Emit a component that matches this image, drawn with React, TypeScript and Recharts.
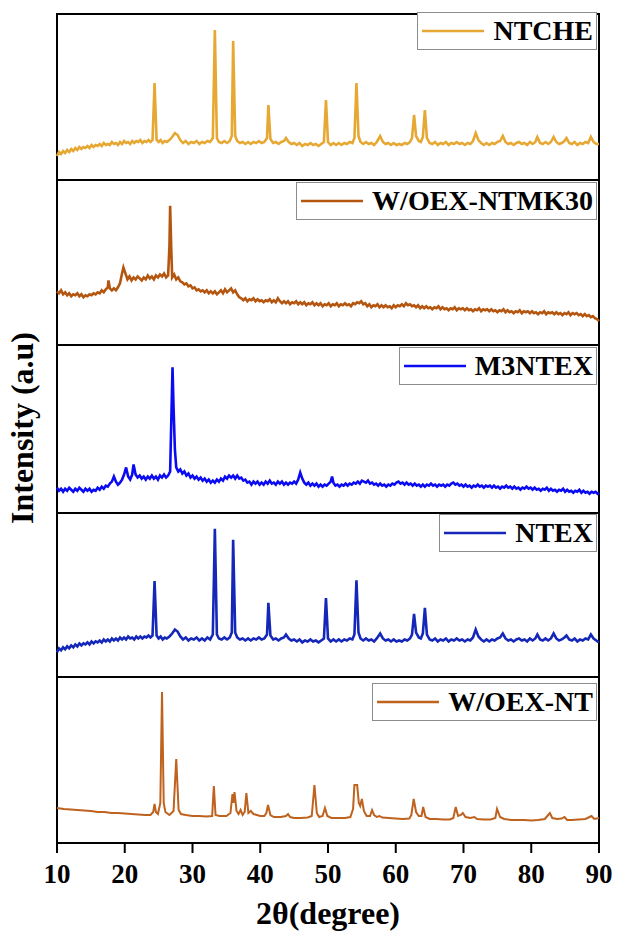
import React from 'react';
import { LineChart, Line, XAxis, YAxis, ReferenceArea, Legend, Label } from 'recharts';

// 2θ tick marks on the shared bottom axis
const xTicks = [10, 20, 30, 40, 50, 60, 70, 80, 90];

// [2θ, intensity]
const ntche: [number, number][] = [
  [10.0, 24], [10.3, 28], [10.6, 26], [10.9, 29], [11.2, 27], [11.5, 30], [11.8, 28], [12.1, 31], [12.4, 29], [12.7, 32],
  [13.0, 30], [13.3, 33], [13.6, 31], [13.9, 33], [14.2, 32], [14.5, 34], [14.8, 32], [15.1, 35], [15.4, 33], [15.7, 35],
  [16.0, 34], [16.3, 36], [16.6, 34], [16.9, 37], [17.2, 35], [17.5, 36], [17.8, 35], [18.1, 38], [18.4, 36], [18.7, 37],
  [19.0, 35], [19.3, 38], [19.6, 36], [19.9, 39], [20.2, 37], [20.5, 38], [20.8, 36], [21.1, 39], [21.4, 37], [21.7, 39],
  [22.0, 38], [22.3, 40], [22.6, 37], [22.9, 39], [23.2, 38], [23.5, 40], [23.8, 38], [24.1, 40], [24.4, 97], [24.7, 40],
  [25.0, 38], [25.3, 40], [25.6, 37], [25.9, 39], [26.2, 38], [26.6, 40], [27.0, 43], [27.4, 47], [27.8, 45], [28.2, 40],
  [28.6, 37], [29.0, 39], [29.4, 36], [29.8, 38], [30.2, 37], [30.6, 39], [31.0, 36], [31.4, 38], [31.8, 37], [32.2, 39],
  [32.6, 38], [33.0, 42], [33.3, 150], [33.6, 42], [33.9, 38], [34.3, 37], [34.7, 39], [35.1, 37], [35.5, 39], [35.8, 44],
  [36.0, 139], [36.3, 44], [36.6, 39], [37.0, 37], [37.4, 38], [37.8, 36], [38.2, 38], [38.6, 36], [39.0, 38], [39.4, 37],
  [39.8, 39], [40.2, 37], [40.6, 38], [41.0, 42], [41.2, 75], [41.5, 41], [41.9, 37], [42.3, 38], [42.7, 36], [43.1, 38],
  [43.5, 39], [43.8, 42], [44.2, 38], [44.6, 36], [45.0, 37], [45.4, 35], [45.8, 37], [46.2, 34], [46.6, 36], [47.0, 35],
  [47.4, 37], [47.8, 35], [48.2, 36], [48.6, 34], [49.0, 36], [49.4, 38], [49.7, 80], [50.0, 38], [50.4, 35], [50.8, 37],
  [51.2, 35], [51.6, 37], [52.0, 35], [52.4, 37], [52.8, 36], [53.2, 38], [53.6, 37], [53.9, 42], [54.2, 97], [54.5, 44],
  [54.8, 38], [55.2, 36], [55.6, 38], [56.0, 36], [56.4, 37], [56.8, 35], [57.2, 38], [57.7, 44], [58.1, 38], [58.5, 36],
  [58.9, 37], [59.3, 35], [59.7, 37], [60.1, 35], [60.5, 36], [60.9, 35], [61.3, 37], [61.7, 36], [62.1, 38], [62.4, 42],
  [62.7, 65], [63.0, 44], [63.4, 39], [63.7, 38], [64.0, 43], [64.3, 70], [64.6, 42], [65.0, 37], [65.4, 36], [65.8, 38],
  [66.2, 35], [66.6, 37], [67.0, 36], [67.4, 38], [67.8, 35], [68.2, 37], [68.6, 36], [69.0, 38], [69.4, 36], [69.8, 37],
  [70.2, 35], [70.6, 37], [71.0, 36], [71.4, 39], [71.8, 47], [72.2, 40], [72.6, 37], [73.0, 35], [73.4, 37], [73.8, 35],
  [74.2, 37], [74.6, 36], [75.0, 38], [75.4, 39], [75.8, 44], [76.2, 38], [76.6, 36], [77.0, 37], [77.4, 35], [77.8, 37],
  [78.2, 38], [78.6, 36], [79.0, 37], [79.4, 35], [79.8, 38], [80.2, 36], [80.6, 38], [80.9, 43], [81.3, 37], [81.7, 36],
  [82.1, 38], [82.5, 36], [82.9, 38], [83.3, 43], [83.7, 38], [84.1, 36], [84.5, 37], [84.9, 39], [85.2, 42], [85.6, 37],
  [86.0, 36], [86.4, 38], [86.8, 35], [87.2, 37], [87.6, 36], [88.0, 38], [88.4, 37], [88.8, 43], [89.2, 38], [89.6, 36],
  [90.0, 36],
];

const noexMk30: [number, number][] = [
  [10.0, 54], [10.3, 52], [10.6, 55], [10.9, 51], [11.2, 53], [11.5, 50], [11.8, 52], [12.1, 49], [12.4, 51], [12.7, 50],
  [13.0, 52], [13.3, 49], [13.6, 51], [13.9, 48], [14.2, 50], [14.5, 49], [14.8, 51], [15.1, 50], [15.4, 52], [15.7, 51],
  [16.0, 53], [16.3, 52], [16.6, 55], [16.9, 53], [17.2, 56], [17.5, 58], [17.6, 65], [17.8, 57], [18.1, 55], [18.4, 57],
  [18.7, 55], [19.0, 58], [19.3, 62], [19.6, 72], [19.8, 78], [20.1, 72], [20.4, 66], [20.7, 69], [21.0, 65], [21.3, 68],
  [21.6, 66], [21.9, 69], [22.2, 67], [22.5, 65], [22.8, 68], [23.1, 66], [23.4, 70], [23.7, 67], [24.0, 69], [24.3, 66],
  [24.6, 70], [24.9, 68], [25.2, 71], [25.5, 69], [25.8, 72], [26.1, 68], [26.4, 70], [26.6, 100], [26.7, 140], [26.85, 100],
  [27.0, 68], [27.3, 71], [27.6, 66], [27.9, 68], [28.2, 64], [28.5, 63], [28.8, 61], [29.1, 62], [29.4, 59], [29.7, 60],
  [30.0, 57], [30.3, 58], [30.6, 55], [30.9, 56], [31.2, 54], [31.5, 55], [31.8, 53], [32.1, 55], [32.4, 52], [32.7, 54],
  [33.0, 52], [33.3, 54], [33.6, 51], [33.9, 53], [34.2, 55], [34.5, 52], [34.8, 56], [35.1, 53], [35.4, 55], [35.7, 57],
  [36.0, 53], [36.3, 55], [36.6, 51], [36.9, 48], [37.2, 47], [37.5, 45], [37.8, 47], [38.1, 44], [38.4, 46], [38.7, 45],
  [39.0, 47], [39.3, 44], [39.6, 46], [39.9, 44], [40.2, 45], [40.5, 43], [40.8, 45], [41.1, 44], [41.4, 46], [41.7, 43],
  [42.0, 45], [42.3, 43], [42.6, 47], [42.9, 44], [43.2, 42], [43.5, 44], [43.8, 42], [44.1, 44], [44.4, 41], [44.7, 43],
  [45.0, 42], [45.3, 44], [45.6, 41], [45.9, 43], [46.2, 41], [46.5, 43], [46.8, 40], [47.1, 42], [47.4, 41], [47.7, 43],
  [48.0, 40], [48.3, 42], [48.6, 40], [48.9, 42], [49.2, 39], [49.5, 41], [49.8, 40], [50.1, 42], [50.4, 39], [50.7, 41],
  [51.0, 40], [51.3, 42], [51.6, 39], [51.9, 41], [52.2, 40], [52.5, 42], [52.8, 40], [53.1, 41], [53.4, 39], [53.7, 42],
  [54.0, 41], [54.3, 43], [54.6, 42], [54.9, 44], [55.2, 41], [55.5, 42], [55.8, 39], [56.1, 41], [56.4, 38], [56.7, 40],
  [57.0, 39], [57.3, 41], [57.6, 38], [57.9, 40], [58.2, 38], [58.5, 40], [58.8, 38], [59.1, 39], [59.4, 37], [59.7, 40],
  [60.0, 38], [60.3, 40], [60.6, 39], [60.9, 41], [61.2, 39], [61.5, 42], [61.8, 40], [62.1, 41], [62.4, 39], [62.7, 40],
  [63.0, 38], [63.3, 40], [63.6, 37], [63.9, 39], [64.2, 37], [64.5, 39], [64.8, 37], [65.1, 38], [65.4, 36], [65.7, 38],
  [66.0, 37], [66.3, 39], [66.6, 36], [66.9, 38], [67.2, 36], [67.5, 37], [67.8, 35], [68.1, 37], [68.4, 36], [68.7, 38],
  [69.0, 35], [69.3, 37], [69.6, 36], [69.9, 37], [70.2, 35], [70.5, 37], [70.8, 35], [71.1, 36], [71.4, 34], [71.7, 36],
  [72.0, 35], [72.3, 37], [72.6, 34], [72.9, 36], [73.2, 35], [73.5, 36], [73.8, 34], [74.1, 36], [74.4, 34], [74.7, 35],
  [75.0, 33], [75.3, 35], [75.6, 34], [75.9, 36], [76.2, 33], [76.5, 35], [76.8, 33], [77.1, 34], [77.4, 32], [77.7, 34],
  [78.0, 33], [78.3, 35], [78.6, 32], [78.9, 34], [79.2, 33], [79.5, 34], [79.8, 32], [80.1, 34], [80.4, 32], [80.7, 33],
  [81.0, 31], [81.3, 33], [81.6, 32], [81.9, 34], [82.2, 31], [82.5, 33], [82.8, 32], [83.1, 33], [83.4, 31], [83.7, 33],
  [84.0, 31], [84.3, 32], [84.6, 30], [84.9, 32], [85.2, 31], [85.5, 33], [85.8, 30], [86.1, 32], [86.4, 31], [86.7, 32],
  [87.0, 30], [87.3, 31], [87.6, 29], [87.9, 31], [88.2, 29], [88.5, 30], [88.8, 28], [89.1, 29], [89.4, 27], [89.7, 26],
  [90.0, 24],
];

const m3ntex: [number, number][] = [
  [10.0, 25], [10.3, 22], [10.6, 24], [10.9, 21], [11.2, 24], [11.5, 22], [11.8, 25], [12.1, 23], [12.4, 21], [12.7, 24],
  [13.0, 22], [13.3, 25], [13.6, 23], [13.9, 21], [14.2, 24], [14.5, 22], [14.8, 24], [15.1, 21], [15.4, 23], [15.7, 22],
  [16.0, 25], [16.3, 23], [16.6, 26], [16.9, 24], [17.2, 27], [17.5, 26], [17.8, 29], [18.1, 31], [18.4, 36], [18.7, 31],
  [19.0, 28], [19.3, 30], [19.6, 33], [19.9, 38], [20.2, 45], [20.5, 36], [20.8, 33], [21.1, 38], [21.3, 48], [21.6, 38],
  [21.9, 35], [22.2, 37], [22.5, 34], [22.8, 36], [23.1, 33], [23.4, 36], [23.7, 34], [24.0, 37], [24.3, 34], [24.6, 36],
  [24.9, 33], [25.2, 37], [25.5, 35], [25.8, 38], [26.1, 35], [26.4, 37], [26.7, 41], [26.9, 100], [27.05, 144], [27.2, 105],
  [27.4, 63], [27.6, 45], [27.9, 41], [28.2, 43], [28.5, 39], [28.8, 41], [29.1, 37], [29.4, 39], [29.7, 35], [30.0, 37],
  [30.3, 34], [30.6, 36], [30.9, 33], [31.2, 35], [31.5, 32], [31.8, 34], [32.1, 31], [32.4, 33], [32.7, 30], [33.0, 32],
  [33.3, 30], [33.6, 33], [33.9, 31], [34.2, 34], [34.5, 32], [34.8, 36], [35.1, 34], [35.4, 37], [35.7, 35], [36.0, 37],
  [36.3, 34], [36.6, 37], [36.9, 34], [37.2, 35], [37.5, 32], [37.8, 33], [38.1, 30], [38.4, 31], [38.7, 28], [39.0, 31],
  [39.3, 29], [39.6, 31], [39.9, 28], [40.2, 30], [40.5, 28], [40.8, 31], [41.1, 29], [41.4, 32], [41.7, 29], [42.0, 30],
  [42.3, 28], [42.6, 31], [42.9, 29], [43.2, 31], [43.5, 28], [43.8, 30], [44.1, 28], [44.4, 30], [44.7, 29], [45.0, 31],
  [45.3, 29], [45.6, 33], [45.9, 40], [46.2, 34], [46.5, 30], [46.8, 28], [47.1, 30], [47.4, 27], [47.7, 29], [48.0, 27],
  [48.3, 29], [48.6, 26], [48.9, 28], [49.2, 26], [49.5, 28], [49.8, 27], [50.1, 29], [50.4, 31], [50.6, 36], [50.8, 30],
  [51.1, 27], [51.4, 28], [51.7, 26], [52.0, 28], [52.3, 27], [52.6, 29], [52.9, 27], [53.2, 29], [53.5, 28], [53.8, 30],
  [54.1, 29], [54.4, 31], [54.7, 29], [55.0, 32], [55.3, 31], [55.6, 30], [55.9, 32], [56.2, 29], [56.5, 30], [56.8, 28],
  [57.1, 29], [57.4, 27], [57.7, 29], [58.0, 27], [58.3, 28], [58.6, 26], [58.9, 28], [59.2, 27], [59.5, 29], [59.8, 28],
  [60.1, 30], [60.4, 31], [60.7, 29], [61.0, 30], [61.3, 28], [61.6, 30], [61.9, 28], [62.2, 29], [62.5, 27], [62.8, 29],
  [63.1, 27], [63.4, 28], [63.7, 26], [64.0, 28], [64.3, 26], [64.6, 28], [64.9, 27], [65.2, 29], [65.5, 27], [65.8, 28],
  [66.1, 26], [66.4, 28], [66.7, 27], [67.0, 28], [67.3, 26], [67.6, 28], [67.9, 27], [68.2, 29], [68.5, 30], [68.8, 28],
  [69.1, 29], [69.4, 27], [69.7, 28], [70.0, 26], [70.3, 28], [70.6, 26], [70.9, 27], [71.2, 25], [71.5, 27], [71.8, 26],
  [72.1, 28], [72.4, 26], [72.7, 27], [73.0, 25], [73.3, 27], [73.6, 26], [73.9, 27], [74.2, 25], [74.5, 27], [74.8, 25],
  [75.1, 26], [75.4, 24], [75.7, 26], [76.0, 25], [76.3, 27], [76.6, 25], [76.9, 26], [77.2, 24], [77.5, 26], [77.8, 24],
  [78.1, 25], [78.4, 23], [78.7, 25], [79.0, 24], [79.3, 26], [79.6, 24], [79.9, 25], [80.2, 23], [80.5, 25], [80.8, 23],
  [81.1, 24], [81.4, 22], [81.7, 24], [82.0, 23], [82.3, 25], [82.6, 22], [82.9, 24], [83.2, 22], [83.5, 23], [83.8, 21],
  [84.1, 23], [84.4, 22], [84.7, 24], [85.0, 21], [85.3, 23], [85.6, 21], [85.9, 22], [86.2, 20], [86.5, 22], [86.8, 21],
  [87.1, 23], [87.4, 20], [87.7, 22], [88.0, 20], [88.3, 21], [88.6, 19], [88.9, 21], [89.2, 20], [89.5, 21], [89.8, 19],
  [90.0, 20],
];

const ntex: [number, number][] = [
  [10.0, 25], [10.3, 29], [10.6, 27], [10.9, 30], [11.2, 28], [11.5, 31], [11.8, 29], [12.1, 32], [12.4, 30], [12.7, 33],
  [13.0, 31], [13.3, 34], [13.6, 32], [13.9, 34], [14.2, 33], [14.5, 35], [14.8, 33], [15.1, 36], [15.4, 34], [15.7, 36],
  [16.0, 35], [16.3, 37], [16.6, 35], [16.9, 38], [17.2, 36], [17.5, 38], [17.8, 36], [18.1, 39], [18.4, 37], [18.7, 39],
  [19.0, 37], [19.3, 40], [19.6, 38], [19.9, 40], [20.2, 38], [20.5, 41], [20.8, 39], [21.1, 40], [21.4, 38], [21.7, 41],
  [22.0, 39], [22.3, 41], [22.6, 39], [22.9, 41], [23.2, 40], [23.5, 42], [23.8, 40], [24.1, 42], [24.4, 97], [24.7, 42],
  [25.0, 39], [25.3, 41], [25.6, 38], [25.9, 40], [26.2, 39], [26.6, 41], [27.0, 44], [27.4, 48], [27.8, 46], [28.2, 41],
  [28.6, 38], [29.0, 40], [29.4, 37], [29.8, 39], [30.2, 38], [30.6, 40], [31.0, 37], [31.4, 39], [31.8, 37], [32.2, 40],
  [32.6, 38], [33.0, 43], [33.3, 150], [33.6, 43], [33.9, 39], [34.3, 38], [34.7, 40], [35.1, 38], [35.5, 40], [35.8, 45],
  [36.0, 139], [36.3, 45], [36.6, 40], [37.0, 38], [37.4, 39], [37.8, 37], [38.2, 39], [38.6, 37], [39.0, 39], [39.4, 38],
  [39.8, 40], [40.2, 38], [40.6, 39], [41.0, 43], [41.2, 75], [41.5, 42], [41.9, 38], [42.3, 39], [42.7, 37], [43.1, 39],
  [43.5, 40], [43.8, 43], [44.2, 39], [44.6, 37], [45.0, 38], [45.4, 36], [45.8, 38], [46.2, 35], [46.6, 37], [47.0, 36],
  [47.4, 38], [47.8, 36], [48.2, 37], [48.6, 35], [49.0, 37], [49.4, 39], [49.7, 80], [50.0, 39], [50.4, 36], [50.8, 38],
  [51.2, 36], [51.6, 38], [52.0, 36], [52.4, 38], [52.8, 37], [53.2, 39], [53.6, 38], [53.9, 43], [54.2, 98], [54.5, 45],
  [54.8, 39], [55.2, 37], [55.6, 39], [56.0, 37], [56.4, 38], [56.8, 36], [57.2, 39], [57.7, 44], [58.1, 39], [58.5, 37],
  [58.9, 38], [59.3, 36], [59.7, 38], [60.1, 36], [60.5, 37], [60.9, 36], [61.3, 38], [61.7, 37], [62.1, 39], [62.4, 43],
  [62.7, 64], [63.0, 45], [63.4, 40], [63.7, 39], [64.0, 44], [64.3, 70], [64.6, 43], [65.0, 38], [65.4, 37], [65.8, 39],
  [66.2, 36], [66.6, 38], [67.0, 37], [67.4, 39], [67.8, 36], [68.2, 38], [68.6, 37], [69.0, 39], [69.4, 37], [69.8, 38],
  [70.2, 36], [70.6, 38], [71.0, 37], [71.4, 40], [71.8, 48], [72.2, 41], [72.6, 38], [73.0, 36], [73.4, 38], [73.8, 36],
  [74.2, 38], [74.6, 37], [75.0, 39], [75.4, 40], [75.8, 44], [76.2, 39], [76.6, 37], [77.0, 38], [77.4, 36], [77.8, 38],
  [78.2, 39], [78.6, 37], [79.0, 38], [79.4, 36], [79.8, 39], [80.2, 37], [80.6, 39], [80.9, 43], [81.3, 38], [81.7, 37],
  [82.1, 39], [82.5, 37], [82.9, 39], [83.3, 44], [83.7, 39], [84.1, 37], [84.5, 38], [84.9, 40], [85.2, 42], [85.6, 38],
  [86.0, 37], [86.4, 39], [86.8, 36], [87.2, 38], [87.6, 37], [88.0, 39], [88.4, 38], [88.8, 43], [89.2, 39], [89.6, 37],
  [90.0, 35],
];

const noexNt: [number, number][] = [
  [10, 35], [11, 34], [12, 33.5], [13, 33], [14, 32.5], [15, 32], [16, 31], [17, 31], [18, 30], [19, 30],
  [20, 29.5], [21, 29], [22, 28.5], [23, 28], [23.8, 28], [24.2, 31], [24.4, 39], [24.6, 31], [24.9, 29], [25.25, 40],
  [25.5, 151], [25.75, 40], [26.0, 31], [26.6, 28], [27.2, 32], [27.6, 84], [27.95, 33], [28.3, 29], [29, 28], [30, 27],
  [31, 27], [32, 26.5], [32.9, 27], [33.15, 57], [33.4, 28], [34, 27], [35, 27], [35.6, 30], [35.9, 49], [36.05, 40],
  [36.2, 51], [36.5, 32], [36.8, 29], [37.1, 33], [37.4, 28], [37.7, 31], [37.95, 50], [38.25, 30], [38.6, 32], [39.0, 29],
  [39.5, 28], [40.0, 27], [40.6, 27], [40.9, 30], [41.15, 38], [41.5, 28], [42, 26], [43, 26], [43.8, 27], [44.1, 29],
  [44.4, 26], [45, 25], [46, 25], [47, 25.5], [47.6, 27], [48.0, 58], [48.35, 30], [48.7, 26], [49.2, 27], [49.55, 35],
  [49.9, 27], [50.5, 25], [51.5, 25], [52.5, 25], [53.3, 26], [53.7, 34], [53.9, 58], [54.3, 58], [54.55, 40], [54.75, 37],
  [55.0, 44], [55.3, 32], [55.7, 27], [56.2, 27], [56.5, 33], [56.8, 28], [57.2, 26], [57.6, 27], [58.0, 25.5], [59, 25],
  [60, 24.5], [61, 24], [62, 24.5], [62.3, 28], [62.65, 44], [63.0, 31], [63.4, 27], [63.8, 27], [64.05, 36], [64.4, 26],
  [65, 24], [66, 24], [67, 23.5], [68, 23.5], [68.5, 25], [68.85, 36], [69.2, 27], [69.6, 28], [69.9, 30], [70.3, 26],
  [71, 25], [71.6, 26], [72, 24], [73, 23.5], [74, 23.5], [74.7, 25], [74.95, 34], [75.4, 26], [76, 24], [77, 23],
  [78, 23], [79, 23], [80, 22.5], [81, 23], [82, 24], [82.5, 28], [82.75, 30], [83.1, 25], [83.8, 24], [84.5, 24.5],
  [84.9, 26], [85.3, 23], [86, 23], [87, 23.5], [88, 24], [88.6, 26], [88.9, 27], [89.3, 24], [90, 25],
];

const serif = '"Liberation Serif", "Times New Roman", serif';
const W = 617;

const panels = [
  { name: 'NTCHE', color: '#E6A833', points: ntche, top: 14, height: 166, keyTop: 0, width: 2.6 },
  { name: 'W/OEX-NTMK30', color: '#B4560F', points: noexMk30, top: 180, height: 165, keyTop: 4, width: 2.6 },
  { name: 'M3NTEX', color: '#0B0BF2', points: m3ntex, top: 345, height: 168, keyTop: 4, width: 2.6 },
  { name: 'NTEX', color: '#1427B8', points: ntex, top: 513, height: 164, keyTop: 3, width: 2.6 },
  { name: 'W/OEX-NT', color: '#BE621E', points: noexNt, top: 677, height: 166, keyTop: 8, width: 2 },
];

const keyBox = (name: string, color: string) => () => (
  <div style={{ display: 'flex', alignItems: 'center', height: 38, boxSizing: 'border-box', border: '1px solid #8c8c8c', background: '#fff', padding: '0 3px 0 3px' }}>
    <svg width={64} height={6} style={{ display: 'block' }}>
      <line x1={1} y1={3} x2={63} y2={3} stroke={color} strokeWidth={2.5} />
    </svg>
    <span style={{ fontFamily: serif, fontWeight: 700, fontSize: 28, color: '#000', marginLeft: 8, lineHeight: '38px' }}>{name}</span>
  </div>
);

const Panel = ({ p, last }: { p: typeof panels[number]; last: boolean }) => {
  const pad = 2;
  const axisH = 88;
  const h = last ? p.height + pad + axisH : p.height + pad * 2;
  const rows = p.points.map(([x, y]) => ({ x, y }));
  return (
    <div style={{ position: 'absolute', left: 0, top: p.top - pad, width: W, height: h }}>
      <LineChart width={W} height={h} data={rows} margin={{ top: pad, right: 18, bottom: last ? 0 : pad, left: 57 }}>
        <XAxis
          dataKey="x"
          type="number"
          domain={[10, 90]}
          ticks={xTicks}
          interval={0}
          hide={!last}
          height={axisH}
          tickSize={10}
          tickMargin={11}
          axisLine={{ stroke: '#000', strokeWidth: 2 }}
          tickLine={{ stroke: '#000', strokeWidth: 2 }}
          tick={{ fill: '#000', fontSize: 27, fontWeight: 700, fontFamily: serif }}
        >
          {last && (
            <Label value="2θ(degree)" position="insideBottom" offset={7} style={{ fill: '#000', fontSize: 32, fontWeight: 700, fontFamily: serif }} />
          )}
        </XAxis>
        <YAxis type="number" domain={[0, 166]} allowDataOverflow hide />
        <ReferenceArea x1={10} x2={90} y1={0} y2={166} fill="none" stroke="#000" strokeWidth={2} />
        <Line type="linear" dataKey="y" stroke={p.color} strokeWidth={p.width} dot={false} isAnimationActive={false} />
        <Legend
          layout="horizontal"
          align="center"
          verticalAlign="middle"
          content={keyBox(p.name, p.color)}
          wrapperStyle={{ top: p.keyTop, right: 20, left: 'auto', width: 'auto', height: 'auto' }}
        />
      </LineChart>
    </div>
  );
};

export default function App() {
  return (
    <div style={{ position: 'absolute', left: 0, top: 0, width: W, height: 931, background: '#fff', overflow: 'hidden' }}>
      {panels.map((p, i) => (
        <Panel key={p.name} p={p} last={i === panels.length - 1} />
      ))}
      <div
        style={{
          position: 'absolute',
          left: 22,
          top: 428,
          transform: 'translate(-50%, -50%) rotate(-90deg)',
          whiteSpace: 'nowrap',
          fontFamily: serif,
          fontWeight: 700,
          fontSize: 32,
          color: '#000',
        }}
      >
        Intensity (a.u)
      </div>
    </div>
  );
}
